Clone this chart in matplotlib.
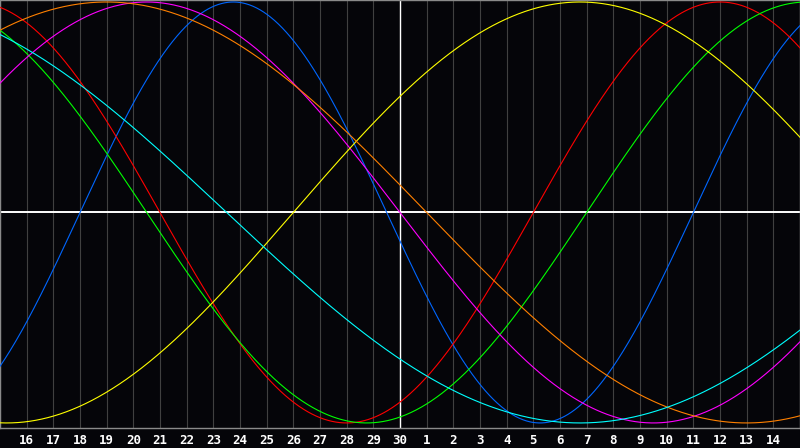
import numpy as np
import matplotlib.pyplot as plt

# biorhythm cycles (days) and colours as drawn
periods = [23, 28, 33, 38, 43, 48, 53]
colors = ['#0066ff', '#ff0000', '#00ff00', '#ff00ff', '#ffff00', '#ff8000', '#00ffff']

# days since birth at the left edge of the chart (day 15)
days_at_start = 27896

# x axis day labels (grid positions 1..29)
day_labels = [str(d) for d in range(16, 31)] + [str(d) for d in range(1, 15)]
n_days = 30
today_pos = 15  # day 30

bg = '#050509'
fig = plt.figure(figsize=(8, 4.48), dpi=100, facecolor=bg)
ax = fig.add_axes([0, 20 / 448, 1, 428 / 448], facecolor=bg)

# day grid
for i in range(n_days + 1):
    ax.axvline(i, color='#404040', lw=0.8, zorder=1)

ax.axhline(0, color='white', lw=1.4, zorder=2)
ax.axvline(today_pos, color='white', lw=1.0, zorder=2)

t = np.linspace(0, n_days, 1601)
for p, c in zip(periods, colors):
    ax.plot(t, np.sin(2 * np.pi * (days_at_start + t) / p), color=c, lw=0.8, zorder=3)

ax.set_xlim(0, n_days)
ax.set_ylim(-1.024, 1.0095)
ax.set_yticks([])
ax.set_xticks(range(1, n_days))
ax.set_xticklabels(day_labels, color='white', fontsize=9, fontweight='bold',
                   family='DejaVu Sans Mono')
ax.tick_params(axis='x', length=0, pad=4)
for s in ax.spines.values():
    s.set_color('#8a8a8a')
    s.set_linewidth(1.0)

plt.savefig('out.png', dpi=100, facecolor=bg)
